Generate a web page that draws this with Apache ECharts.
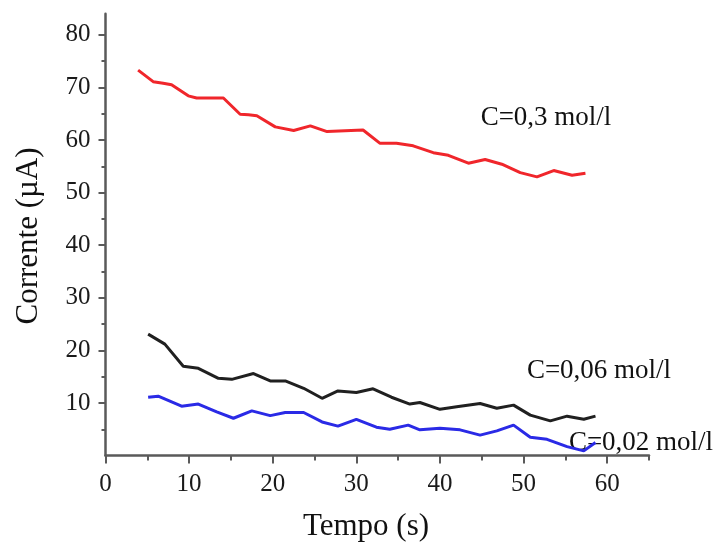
<!DOCTYPE html>
<html>
<head>
<meta charset="utf-8">
<script src="https://cdn.jsdelivr.net/npm/echarts@6/dist/echarts.min.js"></script>
<style>html,body{margin:0;padding:0;background:#fff;}#c{width:717px;height:547px;}</style>
</head>
<body>
<div id="c"></div>
<script>
// Data
var redX = [3.9, 5.7, 6.9, 7.9, 9.9, 10.9, 14.1, 16.1, 17.1, 18.1, 20.3, 22.5, 24.5, 26.5, 30.8, 32.8, 34.8, 36.8, 39.2, 41.0, 43.4, 45.4, 47.4, 49.6, 51.6, 53.6, 55.8, 57.4];
var redY = [73.3, 71.1, 70.8, 70.5, 68.4, 68.0, 68.0, 64.9, 64.8, 64.6, 62.5, 61.8, 62.7, 61.6, 61.9, 59.4, 59.4, 58.9, 57.6, 57.1, 55.6, 56.3, 55.4, 53.8, 53.0, 54.2, 53.3, 53.7];

var blackX = [5.1, 7.1, 9.3, 11.1, 13.5, 15.1, 17.7, 19.7, 21.5, 23.7, 25.9, 27.8, 30.0, 32.0, 34.2, 36.4, 37.6, 40.0, 42.0, 44.8, 46.8, 48.8, 50.8, 53.2, 55.2, 57.2, 58.6];
var blackY = [23.1, 21.2, 17.0, 16.6, 14.7, 14.5, 15.6, 14.2, 14.2, 12.8, 10.9, 12.3, 12.0, 12.7, 11.1, 9.8, 10.1, 8.8, 9.3, 9.9, 9.0, 9.6, 7.7, 6.6, 7.5, 6.9, 7.5];

var blueX = [5.1, 6.3, 9.1, 11.1, 13.3, 15.3, 17.5, 19.7, 21.5, 23.7, 25.9, 27.8, 30.0, 32.4, 34.0, 36.2, 37.6, 40.0, 42.4, 44.8, 46.8, 48.8, 50.8, 52.8, 55.2, 57.2, 58.6];
var blueY = [11.1, 11.3, 9.4, 9.8, 8.3, 7.1, 8.5, 7.6, 8.2, 8.2, 6.4, 5.6, 6.9, 5.4, 5.0, 5.8, 4.9, 5.2, 4.9, 3.9, 4.7, 5.8, 3.5, 3.1, 1.7, 0.9, 2.5];

var xMajorTicks = [0, 10, 20, 30, 40, 50, 60];
var xMinorTicks = [5, 15, 25, 35, 45, 55, 65];
var yMajorTicks = [10, 20, 30, 40, 50, 60, 70, 80];
var yMinorTicks = [5, 15, 25, 35, 45, 55, 65, 75];
var xLabels = [0, 10, 20, 30, 40, 50, 60];
var yLabels = [10, 20, 30, 40, 50, 60, 70, 80];

var seriesNames = ['C=0,3 mol/l', 'C=0,06 mol/l', 'C=0,02 mol/l'];

function pairs(xs, ys) { return xs.map(function (x, i) { return [x, ys[i]]; }); }

var FONT = '"Liberation Serif", "Times New Roman", serif';
var AXC = '#5a5a5a';

var chart = echarts.init(document.getElementById('c'), null, { renderer: 'canvas' });
chart.setOption({
  animation: false,
  backgroundColor: '#ffffff',
  grid: { left: 105.5, right: 68, top: 13.8, bottom: 91.4, containLabel: false },
  xAxis: [{
    type: 'value', min: 0, max: 65,
    axisLine: { show: true, onZero: false, lineStyle: { color: AXC, width: 2.5 } },
    axisTick: { show: true, inside: false, length: 8, customValues: xMajorTicks, lineStyle: { color: AXC, width: 2 } },
    axisLabel: { show: true, customValues: xLabels, margin: 16, color: '#1a1a1a', fontFamily: FONT, fontSize: 25 },
    splitLine: { show: false }
  }, {
    type: 'value', min: 0, max: 65, position: 'bottom',
    axisLine: { show: false, onZero: false },
    axisTick: { show: true, inside: false, length: 5, customValues: xMinorTicks, lineStyle: { color: AXC, width: 2 } },
    axisLabel: { show: false },
    splitLine: { show: false }
  }],
  yAxis: [{
    type: 'value', min: 0, max: 84,
    axisLine: { show: true, onZero: false, lineStyle: { color: AXC, width: 2.5 } },
    axisTick: { show: true, inside: false, length: 7, customValues: yMajorTicks, lineStyle: { color: AXC, width: 2 } },
    axisLabel: { show: true, customValues: yLabels, margin: 15, color: '#1a1a1a', fontFamily: FONT, fontSize: 25 },
    splitLine: { show: false }
  }, {
    type: 'value', min: 0, max: 84, position: 'left',
    axisLine: { show: false, onZero: false },
    axisTick: { show: true, inside: false, length: 4, customValues: yMinorTicks, lineStyle: { color: AXC, width: 2 } },
    axisLabel: { show: false },
    splitLine: { show: false }
  }],
  series: [{
    name: seriesNames[0], type: 'line', xAxisIndex: 0, yAxisIndex: 0,
    data: pairs(redX, redY), showSymbol: false, symbol: 'none',
    lineStyle: { color: '#f0262b', width: 3 }
  }, {
    name: seriesNames[1], type: 'line', xAxisIndex: 0, yAxisIndex: 0,
    data: pairs(blackX, blackY), showSymbol: false, symbol: 'none',
    lineStyle: { color: '#202020', width: 3 }
  }, {
    name: seriesNames[2], type: 'line', xAxisIndex: 0, yAxisIndex: 0,
    data: pairs(blueX, blueY), showSymbol: false, symbol: 'none',
    lineStyle: { color: '#2a2ae6', width: 3 }
  }],
  graphic: [
    { type: 'text', x: 366, y: 527, style: { text: 'Tempo (s)', font: '31px ' + FONT, fill: '#111', textAlign: 'center', textVerticalAlign: 'middle' } },
    { type: 'text', x: 29, y: 236, rotation: Math.PI / 2, style: { text: 'Corrente (µA)', font: '31px ' + FONT, fill: '#111', textAlign: 'center', textVerticalAlign: 'middle' } },
    { type: 'text', x: 546, y: 118, style: { text: seriesNames[0], font: '27px ' + FONT, fill: '#111', textAlign: 'center', textVerticalAlign: 'middle' } },
    { type: 'text', x: 599, y: 371, style: { text: seriesNames[1], font: '27px ' + FONT, fill: '#111', textAlign: 'center', textVerticalAlign: 'middle' } },
    { type: 'text', x: 641, y: 443, style: { text: seriesNames[2], font: '27px ' + FONT, fill: '#111', textAlign: 'center', textVerticalAlign: 'middle' } }
  ]
});
</script>
</body>
</html>
